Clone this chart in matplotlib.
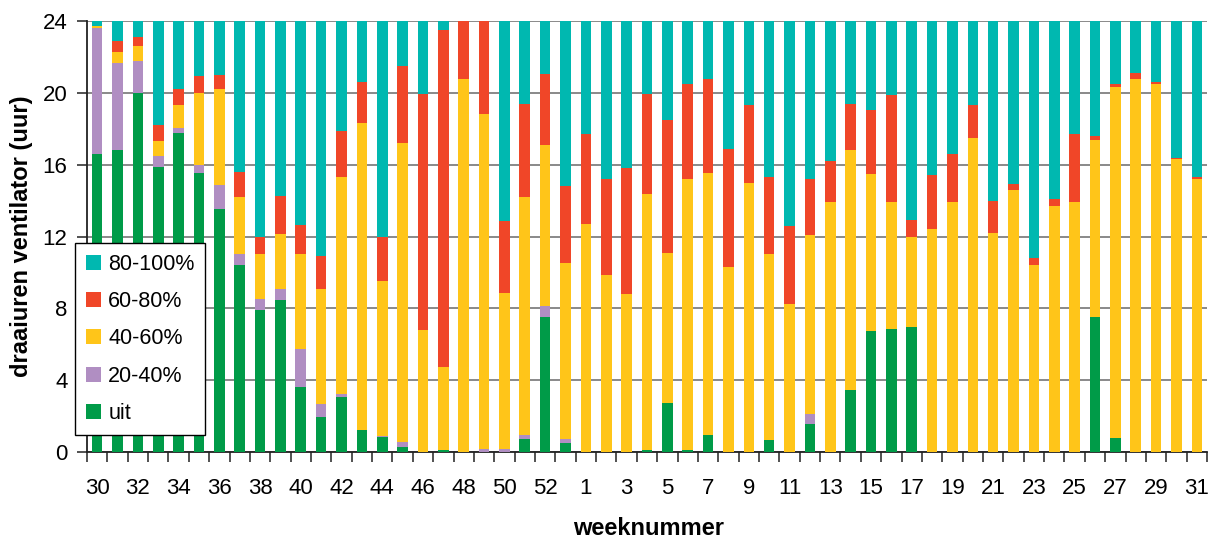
import numpy as np
import matplotlib
matplotlib.use("Agg")
import matplotlib.pyplot as plt

plt.rcParams["font.family"] = ["Liberation Sans", "DejaVu Sans"]

# week numbers (2nd half of year, week 53, then next year)
weeks = list(range(30, 54)) + list(range(1, 32))

# hours per day in each fan speed class
uit = [16.6, 16.8, 20.0, 15.85, 17.75, 15.55, 13.55, 10.4, 7.9, 8.45, 3.6, 1.95,
       3.05, 1.2, 0.85, 0.3, 0, 0.1, 0, 0, 0, 0.7, 7.5, 0.5,
       0, 0, 0, 0.1, 2.75, 0.1, 0.95, 0, 0, 0.65, 0, 1.55, 0, 3.45, 6.75, 6.85,
       6.95, 0, 0, 0, 0, 0, 0, 0, 0, 7.5, 0.8, 0, 0, 0, 0]
p20_40 = [7.0, 4.85, 1.8, 0.65, 0.3, 0.45, 1.3, 0.6, 0.6, 0.65, 2.15, 0.75,
          0.2, 0.05, 0.05, 0.25, 0, 0, 0, 0.15, 0.15, 0.25, 0.65, 0.25,
          0, 0, 0, 0, 0, 0, 0, 0, 0, 0, 0, 0.55, 0, 0, 0, 0,
          0, 0, 0, 0, 0, 0, 0, 0, 0, 0, 0, 0, 0, 0, 0]
p40_60 = [0.15, 0.65, 0.8, 0.8, 1.25, 4.0, 5.35, 3.2, 2.5, 3.05, 5.3, 6.4,
          12.05, 17.1, 8.65, 16.65, 6.8, 4.65, 20.8, 18.65, 8.7, 13.25, 8.95, 9.75,
          12.7, 9.85, 8.8, 14.25, 8.35, 15.1, 14.6, 10.3, 15.0, 10.4, 8.25, 10.0,
          13.9, 13.35, 8.75, 7.1, 5.05, 12.4, 13.9, 17.5, 12.2, 14.6, 10.4, 13.7,
          13.9, 9.9, 19.5, 20.8, 20.5, 16.3, 15.2]
p60_80 = [0, 0.6, 0.5, 0.9, 0.9, 0.95, 0.8, 1.4, 1.0, 2.1, 1.6, 1.8,
          2.6, 2.25, 2.45, 4.3, 13.15, 18.75, 3.2, 5.2, 4.0, 5.2, 3.95, 4.3,
          5.0, 5.35, 7.0, 5.6, 7.4, 5.3, 5.25, 6.6, 4.3, 4.25, 4.35, 3.1,
          2.3, 2.6, 3.55, 5.95, 0.9, 3.0, 2.7, 1.8, 1.8, 0.3, 0.4, 0.4,
          3.8, 0.2, 0.2, 0.3, 0.1, 0.1, 0.1]
p80_100 = [0.25, 1.1, 0.9, 5.8, 3.8, 3.05, 3.0, 8.4, 12.0, 9.75, 11.35, 13.1,
           6.1, 3.4, 12.0, 2.5, 4.05, 0.5, 0, 0, 11.15, 4.6, 2.95, 9.2,
           6.3, 8.8, 8.2, 4.05, 5.5, 3.5, 3.2, 7.1, 4.7, 8.7, 11.4, 8.8,
           7.8, 4.6, 4.95, 4.1, 11.1, 8.6, 7.4, 4.7, 10.0, 9.1, 13.2, 9.9,
           6.3, 6.4, 3.5, 2.9, 3.4, 7.6, 8.7]

series = [("uit", uit, "#009B48"),
          ("20-40%", p20_40, "#B08EC2"),
          ("40-60%", p40_60, "#FFC519"),
          ("60-80%", p60_80, "#F04628"),
          ("80-100%", p80_100, "#00B8B0")]

fig = plt.figure(figsize=(12.11, 5.40), dpi=100)
ax = fig.add_axes([0.0718, 0.163, 0.9249, 0.798])

x = np.arange(len(weeks))
bottom = np.zeros(len(weeks))
handles = []
for name, vals, col in series:
    vals = np.array(vals)
    b = ax.bar(x, vals, 0.52, bottom=bottom, color=col, label=name,
               linewidth=0, zorder=3)
    handles.append(b)
    bottom += vals

ax.set_xlim(-0.5, len(weeks) - 0.5)
ax.set_ylim(0, 24)
ax.set_yticks(range(0, 25, 4))
ax.yaxis.grid(True, color="#808080", linewidth=1.3, zorder=0)
ax.set_axisbelow(True)

# labels on every other week, tick marks between the bars
ax.set_xticks(x[::2])
ax.set_xticklabels([str(w) for w in weeks[::2]])
ax.set_xticks(np.arange(-0.5, len(weeks)), minor=True)
ax.tick_params(axis="x", which="major", length=0, pad=19, labelsize=16)
ax.tick_params(axis="x", which="minor", length=7, width=1.2, color="#333333")
ax.tick_params(axis="y", length=7, width=1.2, pad=7, labelsize=16,
               color="#333333")

for s in ["top", "right"]:
    ax.spines[s].set_visible(False)
for s in ["left", "bottom"]:
    ax.spines[s].set_linewidth(1.3)
    ax.spines[s].set_color("#222222")

ax.set_ylabel("draaiuren ventilator (uur)", fontsize=17, fontweight="bold")
ax.yaxis.set_label_coords(-0.048, 0.5)
ax.set_xlabel("weeknummer", fontsize=17, fontweight="bold")
ax.xaxis.set_label_coords(0.501, -0.152)

leg = ax.legend(handles[::-1], [s[0] for s in series][::-1],
                loc="upper left", bbox_to_anchor=(-0.0107, 0.485),
                borderaxespad=0, fontsize=15.5, frameon=True, fancybox=False,
                edgecolor="black", framealpha=1, handlelength=0.7,
                handleheight=0.7, handletextpad=0.35, labelspacing=0.76,
                borderpad=0.5)
leg.get_frame().set_linewidth(1.0)
leg.set_zorder(5)

fig.savefig("out.png", dpi=100)
